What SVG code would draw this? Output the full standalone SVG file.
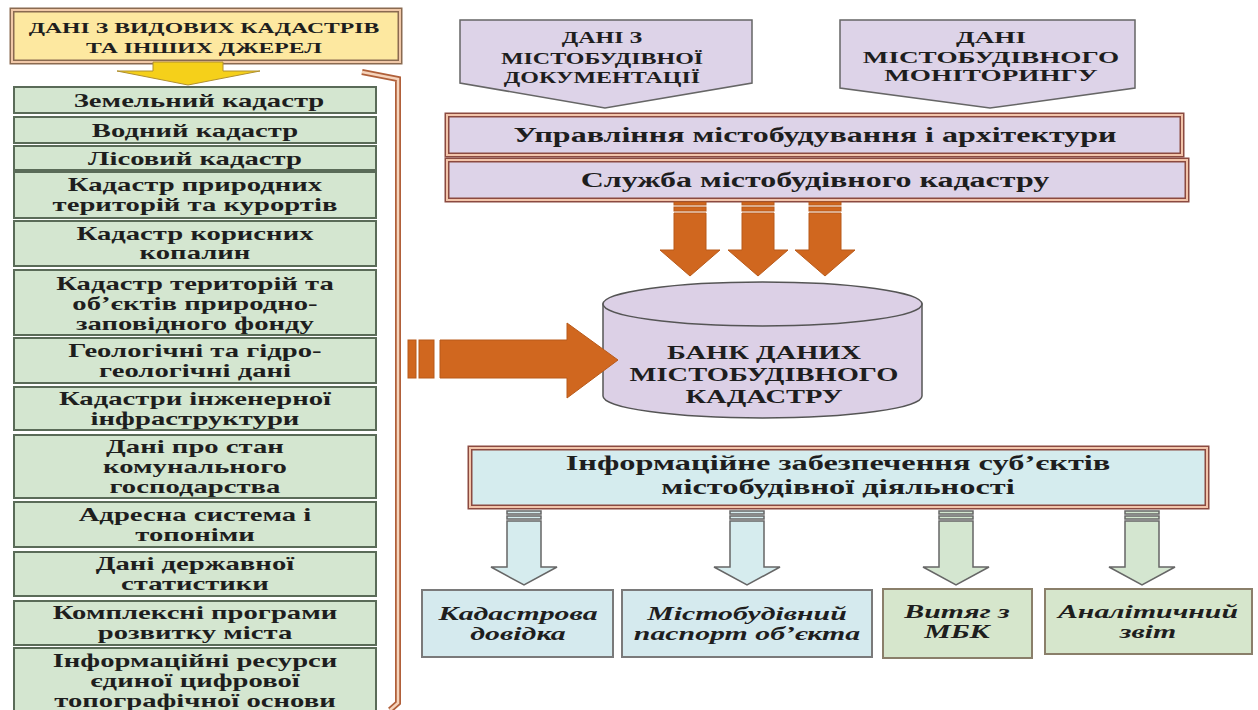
<svg xmlns="http://www.w3.org/2000/svg" width="1258" height="710" viewBox="0 0 1258 710" font-family="'Liberation Serif', 'DejaVu Serif', serif">
<style>
text{font-family:'Liberation Serif','DejaVu Serif',serif;font-weight:bold;fill:#1e1e1e;text-anchor:middle}
.hd{font-size:15px}
.pd{font-size:16px}
.pm{font-size:17px}
.ls{font-size:19px}
.br{font-size:20px}
.cy{font-size:19px}
.it{font-size:19px;font-style:italic}
.green{fill:#d4e6d0;stroke:#5a6b58;stroke-width:2}
.lav{fill:#ddd3e8;stroke:#666;stroke-width:1.5}
.dblo{fill:none;stroke:#8b4a40;stroke-width:5}
.dbli{fill:none;stroke:#f2c4aa;stroke-width:2}
.orange{fill:#d0671f;stroke:#b85a1a;stroke-width:1}
.hblue{fill:#d6ecee;stroke:#666;stroke-width:1.5}
.hgreen{fill:#d4e6d0;stroke:#666;stroke-width:1.5}
.bblue{fill:#d5eaee;stroke:#7a7a7a;stroke-width:2}
.bgreen{fill:#d6e6cc;stroke:#8a7f6a;stroke-width:2}
</style>
<rect width="1258" height="710" fill="#ffffff"/>

<g id="header">
<rect x="12" y="10" width="388" height="52" fill="#fde8a0"/>
<rect x="12" y="10" width="388" height="52" fill="none" stroke="#8a6a50" stroke-width="5"/>
<rect x="12" y="10" width="388" height="52" fill="none" stroke="#f0c8a8" stroke-width="2"/>
<text class="hd" transform="translate(204 0) scale(1.58 1)"><tspan x="0" y="33">ДАНІ З ВИДОВИХ КАДАСТРІВ</tspan><tspan x="0" y="53">ТА ІНШИХ ДЖЕРЕЛ</tspan></text>
</g>

<g id="list">
<g id="n1"><rect class="green" x="14" y="87" width="362" height="26"/><text class="ls" transform="translate(199 0) scale(1.51 1)"><tspan x="0" y="107">Земельний кадастр</tspan></text></g>
<g id="n2"><rect class="green" x="14" y="117" width="362" height="26"/><text class="ls" transform="translate(195 0) scale(1.51 1)"><tspan x="0" y="137">Водний кадастр</tspan></text></g>
<g id="n3"><rect class="green" x="14" y="146" width="362" height="24"/><text class="ls" transform="translate(195 0) scale(1.51 1)"><tspan x="0" y="165">Лісовий кадастр</tspan></text></g>
<g id="n4"><rect class="green" x="14" y="172" width="362" height="46"/><text class="ls" transform="translate(195 0) scale(1.51 1)"><tspan x="0" y="191">Кадастр природних</tspan><tspan x="0" y="211">територій та курортів</tspan></text></g>
<g id="n5"><rect class="green" x="14" y="221" width="362" height="45"/><text class="ls" transform="translate(195 0) scale(1.51 1)"><tspan x="0" y="240">Кадастр корисних</tspan><tspan x="0" y="259">копалин</tspan></text></g>
<g id="n6"><rect class="green" x="14" y="270" width="362" height="65"/><text class="ls" transform="translate(195 0) scale(1.51 1)"><tspan x="0" y="290">Кадастр територій та</tspan><tspan x="0" y="310">об’єктів природно-</tspan><tspan x="0" y="330">заповідного фонду</tspan></text></g>
<g id="n7"><rect class="green" x="14" y="338" width="362" height="45"/><text class="ls" transform="translate(195 0) scale(1.51 1)"><tspan x="0" y="357">Геологічні та гідро-</tspan><tspan x="0" y="377">геологічні дані</tspan></text></g>
<g id="n8"><rect class="green" x="14" y="387" width="362" height="43"/><text class="ls" transform="translate(195 0) scale(1.51 1)"><tspan x="0" y="405">Кадастри інженерної</tspan><tspan x="0" y="425">інфраструктури</tspan></text></g>
<g id="n9"><rect class="green" x="14" y="435" width="362" height="63"/><text class="ls" transform="translate(195 0) scale(1.51 1)"><tspan x="0" y="453">Дані про стан</tspan><tspan x="0" y="473">комунального</tspan><tspan x="0" y="493">господарства</tspan></text></g>
<g id="n10"><rect class="green" x="14" y="502" width="362" height="45"/><text class="ls" transform="translate(195 0) scale(1.51 1)"><tspan x="0" y="521">Адресна система і</tspan><tspan x="0" y="541">топоніми</tspan></text></g>
<g id="n11"><rect class="green" x="14" y="552" width="362" height="44"/><text class="ls" transform="translate(195 0) scale(1.51 1)"><tspan x="0" y="570">Дані державної</tspan><tspan x="0" y="590">статистики</tspan></text></g>
<g id="n12"><rect class="green" x="14" y="601" width="362" height="44"/><text class="ls" transform="translate(195 0) scale(1.51 1)"><tspan x="0" y="619">Комплексні програми</tspan><tspan x="0" y="639">розвитку міста</tspan></text></g>
<g id="n13"><rect class="green" x="14" y="648" width="362" height="66"/><text class="ls" transform="translate(195 0) scale(1.51 1)"><tspan x="0" y="667">Інформаційні ресурси</tspan><tspan x="0" y="687">єдиної цифрової</tspan><tspan x="0" y="707">топографічної основи</tspan></text></g>
</g>

<g id="doc">
<polygon class="lav" points="460,20 752,20 752,83 605,108 460,83"/>
<text class="pd" transform="translate(602 0) scale(1.5 1)"><tspan x="0" y="43">ДАНІ З</tspan><tspan x="0" y="64">МІСТОБУДІВНОЇ</tspan><tspan x="0" y="83">ДОКУМЕНТАЦІЇ</tspan></text>
</g>
<g id="mon">
<polygon class="lav" points="840,20 1135,20 1135,88 990,108 840,88"/>
<text class="pm" transform="translate(991 0) scale(1.6 1)"><tspan x="0" y="43">ДАНІ</tspan><tspan x="0" y="63">МІСТОБУДІВНОГО</tspan><tspan x="0" y="81">МОНІТОРИНГУ</tspan></text>
</g>

<g id="upr">
<rect x="447" y="115" width="735" height="40" fill="#ddd3e8"/>
<rect class="dblo" x="447" y="115" width="735" height="40"/>
<rect class="dbli" x="447" y="115" width="735" height="40"/>
<text class="br" transform="translate(815 0) scale(1.6 1)"><tspan x="0" y="142">Управління містобудування і архітектури</tspan></text>
</g>
<g id="sluzh">
<rect x="447" y="160" width="740" height="40" fill="#ddd3e8"/>
<rect class="dblo" x="447" y="160" width="740" height="40"/>
<rect class="dbli" x="447" y="160" width="740" height="40"/>
<text class="br" transform="translate(815 0) scale(1.6 1)"><tspan x="0" y="187">Служба містобудівного кадастру</tspan></text>
</g>

<g id="bank">
<path d="M603 304 L603 396 A159.5 22 0 0 0 922 396 L922 304 Z" fill="#dcd0e6" stroke="#555" stroke-width="1.5"/>
<ellipse cx="762.5" cy="304" rx="159.5" ry="22" fill="#dcd0e6" stroke="#555" stroke-width="1.5"/>
<text class="cy" transform="translate(764 0) scale(1.5 1)"><tspan x="0" y="359">БАНК ДАНИХ</tspan><tspan x="0" y="381">МІСТОБУДІВНОГО</tspan><tspan x="0" y="403">КАДАСТРУ</tspan></text>
</g>

<g id="info">
<rect x="470" y="448" width="737" height="59" fill="#d5ecee"/>
<rect class="dblo" x="470" y="448" width="737" height="59"/>
<rect class="dbli" x="470" y="448" width="737" height="59"/>
<text class="br" transform="translate(838 0) scale(1.62 1)"><tspan x="0" y="470">Інформаційне забезпечення суб’єктів</tspan><tspan x="0" y="494">містобудівної діяльності</tspan></text>
</g>

<g id="out1"><rect class="bblue" x="422" y="590" width="191" height="67"/><text class="it" transform="translate(518 0) scale(1.57 1)"><tspan x="0" y="620">Кадастрова</tspan><tspan x="0" y="640">довідка</tspan></text></g>
<g id="out2"><rect class="bblue" x="622" y="590" width="250" height="67"/><text class="it" transform="translate(747 0) scale(1.57 1)"><tspan x="0" y="620">Містобудівний</tspan><tspan x="0" y="640">паспорт об’єкта</tspan></text></g>
<g id="out3"><rect class="bgreen" x="883" y="589" width="149" height="69"/><text class="it" transform="translate(957 0) scale(1.57 1)"><tspan x="0" y="618">Витяг з</tspan><tspan x="0" y="638">МБК</tspan></text></g>
<g id="out4"><rect class="bgreen" x="1045" y="589" width="207" height="65"/><text class="it" transform="translate(1148 0) scale(1.57 1)"><tspan x="0" y="618">Аналітичний</tspan><tspan x="0" y="638">звіт</tspan></text></g>

<g id="connectors">
<polygon points="153,62 223,62 223,71 260,71 188,85 117,71 153,71" fill="#f5d01a" stroke="#b09030" stroke-width="1"/>
<path d="M362 72 L398 79 L398 703 L390 710" fill="none" stroke="#b0603a" stroke-width="6"/>
<path d="M362 72 L398 79 L398 703 L390 710" fill="none" stroke="#f6d4bc" stroke-width="2.5"/>

<rect class="orange" x="408" y="340" width="8" height="38"/>
<rect class="orange" x="419" y="340" width="15" height="38"/>
<polygon class="orange" points="440,340 567,340 567,323 618,360 567,398 567,378 440,378"/>

<g>
<rect class="orange" x="674" y="202" width="32" height="3"/><rect class="orange" x="674" y="207" width="32" height="4"/>
<polygon class="orange" points="674,213 706,213 706,250 720,250 690,276 660,250 674,250"/>
<rect class="orange" x="742" y="202" width="32" height="3"/><rect class="orange" x="742" y="207" width="32" height="4"/>
<polygon class="orange" points="742,213 774,213 774,250 788,250 758,276 728,250 742,250"/>
<rect class="orange" x="809" y="202" width="32" height="3"/><rect class="orange" x="809" y="207" width="32" height="4"/>
<polygon class="orange" points="809,213 841,213 841,250 855,250 825,276 795,250 809,250"/>
</g>

<g>
<rect class="hblue" x="507" y="511" width="34" height="3"/><rect class="hblue" x="507" y="516" width="34" height="3"/>
<polygon class="hblue" points="507,521 541,521 541,567 557,567 524,585 491,567 507,567"/>
<rect class="hblue" x="730" y="511" width="34" height="3"/><rect class="hblue" x="730" y="516" width="34" height="3"/>
<polygon class="hblue" points="730,521 764,521 764,567 780,567 747,585 714,567 730,567"/>
<rect class="hgreen" x="939" y="511" width="34" height="3"/><rect class="hgreen" x="939" y="516" width="34" height="3"/>
<polygon class="hgreen" points="939,521 973,521 973,567 989,567 956,585 923,567 939,567"/>
<rect class="hgreen" x="1125" y="511" width="34" height="3"/><rect class="hgreen" x="1125" y="516" width="34" height="3"/>
<polygon class="hgreen" points="1125,521 1159,521 1159,567 1175,567 1142,585 1109,567 1125,567"/>
</g>
</g>
</svg>
